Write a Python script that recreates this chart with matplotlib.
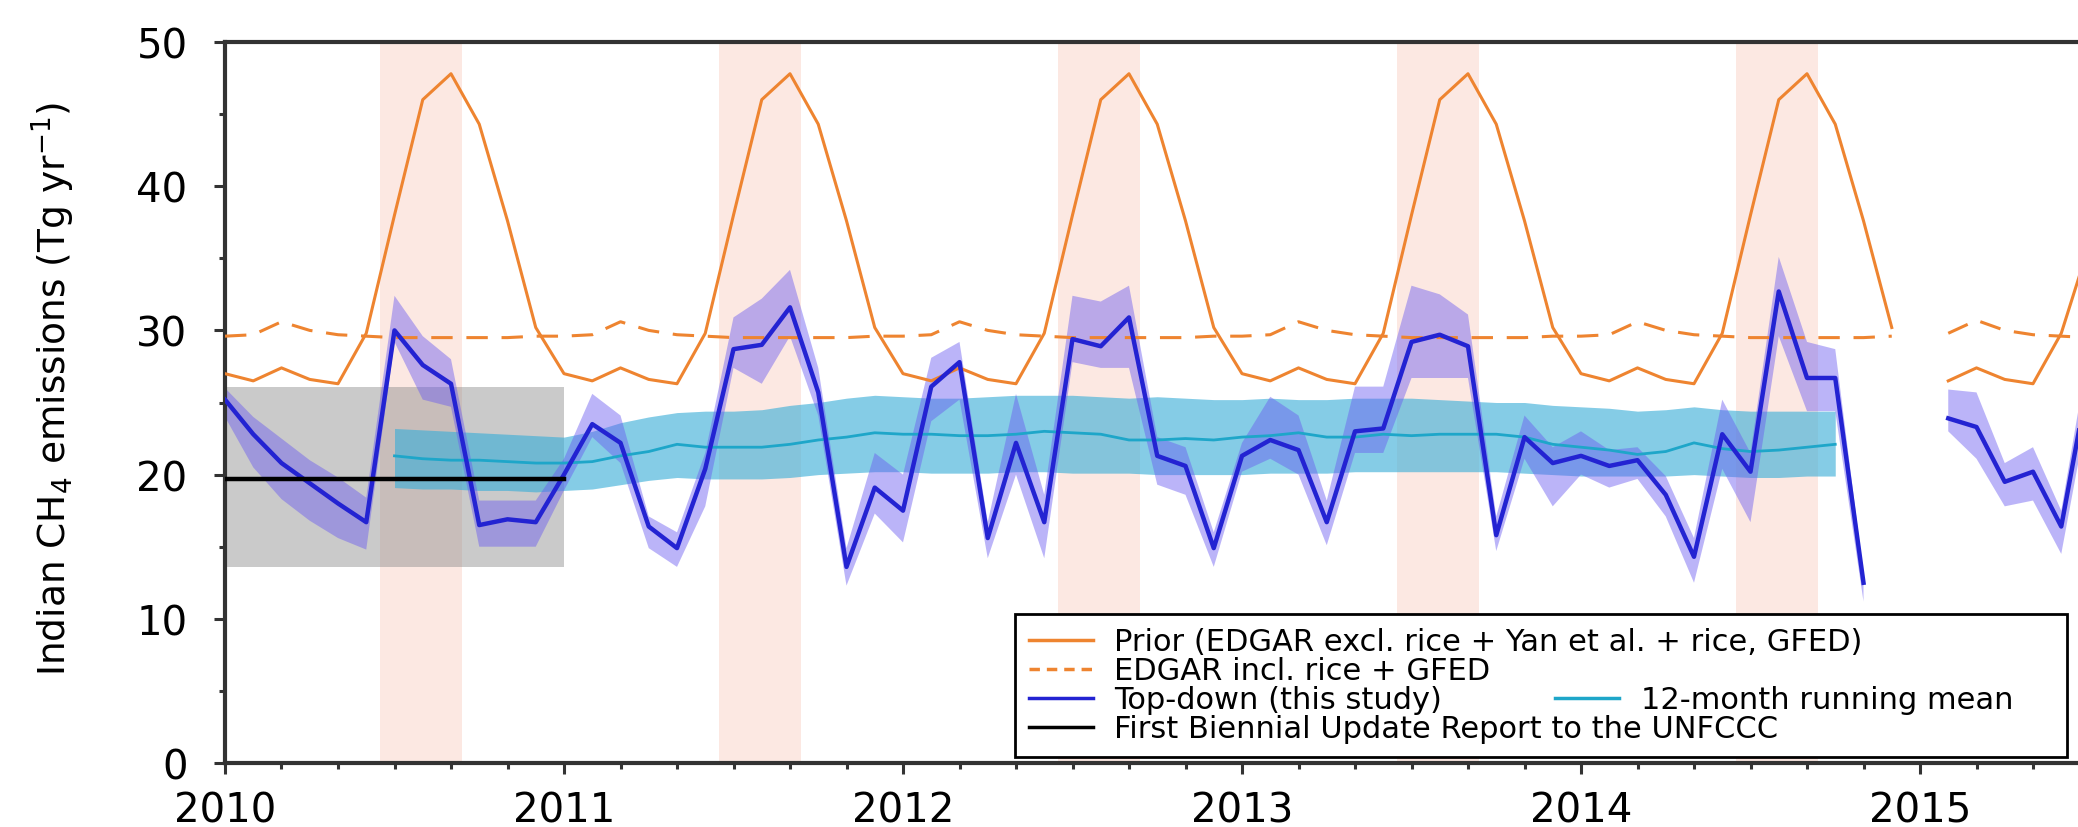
import numpy as np
import matplotlib
matplotlib.use("Agg")
import matplotlib.pyplot as plt
from matplotlib.lines import Line2D

nan = np.nan

# monthly values, Jan 2010 .. Jul 2015 (Tg/yr)
prior = [
    27.0, 26.5, 27.4, 26.6, 26.3, 29.8, 38.0, 46.0, 47.8, 44.3, 37.6, 30.2,
    27.0, 26.5, 27.4, 26.6, 26.3, 29.8, 38.0, 46.0, 47.8, 44.3, 37.6, 30.2,
    27.0, 26.5, 27.4, 26.6, 26.3, 29.8, 38.0, 46.0, 47.8, 44.3, 37.6, 30.2,
    27.0, 26.5, 27.4, 26.6, 26.3, 29.8, 38.0, 46.0, 47.8, 44.3, 37.6, 30.2,
    27.0, 26.5, 27.4, 26.6, 26.3, 29.8, 38.0, 46.0, 47.8, 44.3, 37.6, 30.2,
    nan, 26.5, 27.4, 26.6, 26.3, 29.8, 36.0,
]
edgar = [
    29.6, 29.7, 30.6, 30.0, 29.7, 29.6, 29.5, 29.5, 29.5, 29.5, 29.5, 29.6,
    29.6, 29.7, 30.6, 30.0, 29.7, 29.6, 29.5, 29.5, 29.5, 29.5, 29.5, 29.6,
    29.6, 29.7, 30.6, 30.0, 29.7, 29.6, 29.5, 29.5, 29.5, 29.5, 29.5, 29.6,
    29.6, 29.7, 30.6, 30.0, 29.7, 29.6, 29.5, 29.5, 29.5, 29.5, 29.5, 29.6,
    29.6, 29.7, 30.6, 30.0, 29.7, 29.6, 29.5, 29.5, 29.5, 29.5, 29.5, 29.6,
    nan, 29.8, 30.7, 30.0, 29.7, 29.6, 29.5,
]
topdown = [
    25.2, 22.8, 20.8, 19.4, 18.0, 16.7, 30.0, 27.6, 26.3, 16.5, 16.9, 16.7,
    20.0, 23.5, 22.2, 16.4, 14.9, 20.4, 28.7, 29.0, 31.6, 25.7, 13.6, 19.1,
    17.5, 26.1, 27.8, 15.6, 22.2, 16.7, 29.4, 28.9, 30.9, 21.3, 20.6, 14.9,
    21.3, 22.4, 21.7, 16.7, 23.0, 23.2, 29.2, 29.7, 28.9, 15.8, 22.6, 20.8,
    21.3, 20.6, 21.0, 18.6, 14.3, 22.8, 20.2, 32.7, 26.7, 26.7, 12.5, nan,
    nan, 23.9, 23.3, 19.5, 20.2, 16.4, 27.0,
]
topdown_hi = [
    26.0, 24.0, 22.5, 21.0, 19.8, 18.4, 32.4, 29.6, 28.0, 18.2, 18.2, 18.2,
    21.1, 25.6, 24.1, 17.1, 16.0, 21.5, 30.9, 32.2, 34.2, 27.4, 14.9, 21.5,
    20.0, 28.1, 29.2, 16.7, 25.6, 18.6, 32.4, 32.0, 33.1, 22.6, 21.9, 16.0,
    22.2, 25.4, 24.1, 18.2, 26.1, 26.1, 33.1, 32.5, 31.1, 17.1, 24.1, 21.9,
    23.0, 21.7, 21.9, 19.9, 15.6, 25.2, 21.5, 35.1, 29.2, 28.7, 13.1, nan,
    nan, 25.9, 25.7, 20.8, 21.9, 17.5, 29.0,
]
topdown_lo = [
    24.0, 20.5, 18.3, 16.8, 15.6, 14.8, 29.2, 25.2, 24.7, 15.0, 15.0, 15.0,
    18.9, 22.6, 20.8, 14.9, 13.6, 17.8, 27.4, 26.3, 29.6, 24.1, 12.3, 17.3,
    15.3, 23.7, 25.2, 14.2, 20.0, 14.2, 27.8, 27.4, 27.4, 19.3, 18.6, 13.6,
    20.2, 21.1, 20.0, 15.1, 21.5, 21.5, 26.7, 26.7, 26.7, 14.7, 21.1, 17.8,
    20.0, 19.1, 19.7, 17.1, 12.5, 20.4, 16.7, 29.6, 24.4, 24.4, 11.2, nan,
    nan, 23.0, 21.1, 17.8, 18.2, 14.5, 25.0,
]

# 12-month running mean, Jul 2010 .. Oct 2014
runmean = [
    21.3, 21.1, 21.0, 21.0, 20.9, 20.8, 20.8, 20.9, 21.3, 21.6, 22.1, 21.9,
    21.9, 21.9, 22.1, 22.4, 22.6, 22.9, 22.8, 22.8, 22.7, 22.7, 22.8, 23.0,
    22.9, 22.8, 22.4, 22.4, 22.5, 22.4, 22.6, 22.7, 22.9, 22.6, 22.6, 22.8,
    22.7, 22.8, 22.8, 22.8, 22.6, 22.1, 21.9, 21.7, 21.4, 21.6, 22.2, 21.8,
    21.6, 21.7, 21.9, 22.1,
]
runmean_hi = [
    23.2, 23.1, 23.0, 22.9, 22.8, 22.7, 22.6, 23.0, 23.6, 24.0, 24.3, 24.4,
    24.4, 24.5, 24.8, 25.0, 25.3, 25.5, 25.4, 25.3, 25.3, 25.4, 25.5, 25.5,
    25.5, 25.4, 25.3, 25.4, 25.3, 25.2, 25.2, 25.3, 25.2, 25.2, 25.3, 25.3,
    25.3, 25.2, 25.1, 25.0, 25.0, 24.8, 24.7, 24.6, 24.4, 24.5, 24.7, 24.5,
    24.4, 24.4, 24.4, 24.4,
]
runmean_lo = [
    19.1, 19.0, 19.0, 18.9, 18.9, 18.8, 18.9, 19.0, 19.3, 19.6, 19.8, 19.7,
    19.7, 19.7, 19.8, 20.0, 20.1, 20.2, 20.2, 20.1, 20.1, 20.1, 20.2, 20.2,
    20.1, 20.1, 20.1, 20.0, 20.0, 20.0, 20.0, 20.1, 20.1, 20.1, 20.2, 20.2,
    20.2, 20.2, 20.2, 20.2, 20.1, 20.0, 19.9, 19.9, 19.9, 19.9, 20.0, 19.9,
    19.8, 19.8, 19.9, 19.9,
]

# First Biennial Update Report (2010) value and range
bur_value = 19.7
bur_range = (13.6, 26.1)
bur_period = (2010.0, 2011.0)

# monsoon shading, months (from Jan = 0) covered each year
monsoon_years = [2010, 2011, 2012, 2013, 2014]
monsoon_months = (5.5, 8.4)

ORANGE = "#ee8430"
BLUE = "#2323d2"
CYAN = "#1ea6c9"

t = 2010 + np.arange(len(prior)) / 12.0
t_run = t[6:6 + len(runmean)]

plt.rcParams["font.family"] = "DejaVu Sans"

fig = plt.figure(figsize=(20.78, 8.28), dpi=100)
ax = fig.add_axes([225 / 2078, 64 / 828, 1853 / 2078, 721 / 828])

for yr in monsoon_years:
    ax.axvspan(yr + monsoon_months[0] / 12, yr + monsoon_months[1] / 12,
               color="#fce8e2", lw=0, zorder=0)

ax.fill_between(bur_period, bur_range[0], bur_range[1],
                color="#8a8a8a", alpha=0.45, lw=0, zorder=1)

ax.fill_between(t_run, runmean_lo, runmean_hi,
                color="#3aaed8", alpha=0.62, lw=0, zorder=2)
ax.fill_between(t, topdown_lo, topdown_hi,
                color="#6a5af0", alpha=0.45, lw=0, zorder=2)

ax.plot(t, prior, color=ORANGE, lw=2.2, zorder=3)
ax.plot(t, edgar, color=ORANGE, lw=2.2, dashes=(7, 4.5), zorder=3)
ax.plot(t_run, runmean, color=CYAN, lw=2.0, zorder=3)
ax.plot(t, topdown, color=BLUE, lw=3.2, zorder=4)
ax.plot(bur_period, [bur_value, bur_value], color="black", lw=3.2, zorder=5)

ax.set_xlim(2010, 2010 + 1853 / 339)
ax.set_ylim(0, 50)
ax.set_xticks(range(2010, 2016))
ax.set_xticks(np.arange(2010, 2015.5, 1 / 6), minor=True)
ax.set_yticks(range(0, 51, 10))
ax.set_yticks(range(5, 50, 10), minor=True)
ax.tick_params(which="major", direction="out", length=8, width=2.2,
               labelsize=29, color="#333333")
ax.tick_params(which="minor", direction="out", length=4.5, width=2.2,
               color="#333333")
ax.tick_params(axis="y", pad=19)
ax.tick_params(axis="x", pad=12)

for side in ("left", "bottom", "top"):
    ax.spines[side].set_linewidth(3)
    ax.spines[side].set_color("#333333")
ax.spines["right"].set_visible(False)

ax.set_ylabel("Indian CH$_4$ emissions (Tg yr$^{-1}$)", fontsize=27)
ax.yaxis.set_label_coords(-0.080, 0.52)

handles = [
    Line2D([], [], color=ORANGE, lw=2.5),
    Line2D([], [], color=ORANGE, lw=2.5, dashes=(3, 2)),
    Line2D([], [], color=BLUE, lw=2.5),
    Line2D([], [], color="black", lw=2.5),
]
labels = [
    "Prior (EDGAR excl. rice + Yan et al. + rice, GFED)",
    "EDGAR incl. rice + GFED",
    "Top-down (this study)",
    "First Biennial Update Report to the UNFCCC",
]
leg = ax.legend(handles, labels, loc="lower left",
                bbox_to_anchor=(0.4263, 0.0083, 0.5678, 0.21), mode="expand",
                borderaxespad=0, fontsize=22, handlelength=2.1,
                handletextpad=0.7, labelspacing=0.0, borderpad=0.45,
                fancybox=False, framealpha=1, edgecolor="black")
leg.get_frame().set_linewidth(2)
leg.set_zorder(10)
ax.add_artist(leg)

fig.canvas.draw()
row = leg.get_texts()[2].get_window_extent()
ya = ax.transAxes.inverted().transform((0, 0.5 * (row.y0 + row.y1)))[1]
leg2 = ax.legend([Line2D([], [], color=CYAN, lw=2.5)], ["12-month running mean"],
                 loc="center left", bbox_to_anchor=(0.7178, ya),
                 borderaxespad=0, borderpad=0, fontsize=22, handlelength=2.1,
                 handletextpad=0.7, frameon=False)
leg2.set_zorder(11)

fig.savefig("out.png", dpi=100)
